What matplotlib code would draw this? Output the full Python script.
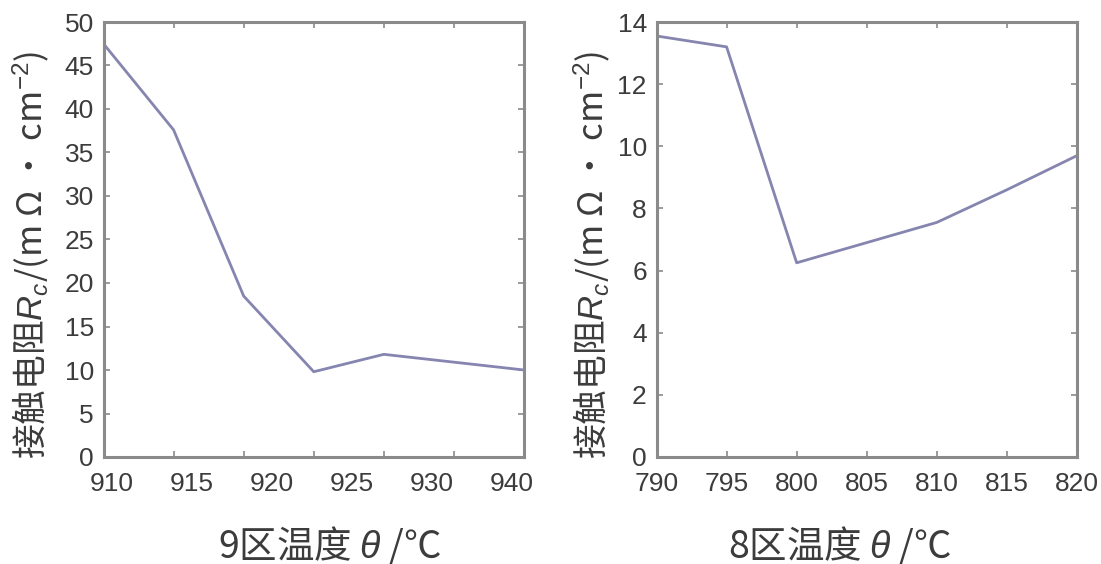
import matplotlib
matplotlib.use("Agg")
import matplotlib.pyplot as plt
import numpy as np

plt.rcParams['font.family'] = ['Liberation Sans', 'Noto Sans CJK SC', 'DejaVu Sans']
plt.rcParams['mathtext.fontset'] = 'custom'
plt.rcParams['mathtext.rm'] = 'Liberation Sans'
plt.rcParams['mathtext.it'] = 'Liberation Sans:italic'

# ---- data ----
x9 = [910, 915, 920, 925, 930, 935, 940]
r9 = [47.5, 37.6, 18.5, 9.8, 11.8, 10.9, 10.0]
x9_ticklabels = ['910', '915', '920', '925', '930', '940']
y9_ticks = [0, 5, 10, 15, 20, 25, 30, 35, 40, 45, 50]

x8 = [790, 795, 800, 805, 810, 815, 820]
r8 = [13.55, 13.2, 6.25, 6.9, 7.55, 8.6, 9.7]
x8_ticks = [790, 795, 800, 805, 810, 815, 820]
y8_ticks = [0, 2, 4, 6, 8, 10, 12, 14]

xlabel9 = '9区温度 $\\theta$ /℃'
xlabel8 = '8区温度 $\\theta$ /℃'
ylabel = '接触电阻$\\mathit{R}_{\\mathit{c}}$/(m Ω • cm$^{-2}$)'

W, H = 1101, 564
fig = plt.figure(figsize=(W / 100, H / 100), dpi=100)

line_color = '#8585b0'
frame_color = '#8a8a8a'
text_color = '#3c3c3c'
tick_fs = 19
xlabel_fs = 27
ylabel_fs = 25


def style(ax):
    for s in ax.spines.values():
        s.set_color(frame_color)
        s.set_linewidth(2.2)
    ax.tick_params(which='major', direction='in', top=True, right=True,
                   length=4, width=1.2, color=frame_color,
                   labelsize=tick_fs, labelcolor=text_color, pad=7)


def px_axes(l, t, r, b):
    return fig.add_axes([l / W, 1 - b / H, (r - l) / W, (b - t) / H])


# ---- left panel ----
ax1 = px_axes(103.5, 22, 524, 457)
ax1.plot(x9, r9, color=line_color, lw=2.0)
ax1.set_xlim(910, 940)
ax1.set_ylim(0, 50)
ax1.set_yticks(y9_ticks)
ax1.set_xticks(x9)
ax1.set_xticklabels([''] * len(x9))
lab_pos = np.linspace(910.6, 939.1, len(x9_ticklabels))
ax1.set_xticks(lab_pos, minor=True)
ax1.set_xticklabels(x9_ticklabels, minor=True)
style(ax1)
ax1.tick_params(which='minor', length=0, labelsize=tick_fs,
                labelcolor=text_color, pad=11, top=False)
ax1.set_xlabel(xlabel9, fontsize=xlabel_fs, color=text_color,
               family=['Noto Sans CJK SC', 'DejaVu Sans'])
ax1.xaxis.set_label_coords((330 - 103.5) / 420.5, -(545 - 457) / 435)
ax1.xaxis.label.set_va('center')
ax1.set_ylabel(ylabel, fontsize=ylabel_fs, color=text_color,
               family=['Noto Sans CJK SC', 'DejaVu Sans'])
ax1.yaxis.set_label_coords(-(103.5 - 31) / 420.5, (457 - 255) / 435)
ax1.yaxis.label.set_va('center')

# ---- right panel ----
ax2 = px_axes(656.5, 22, 1077, 457)
ax2.plot(x8, r8, color=line_color, lw=2.0)
ax2.set_xlim(790, 820)
ax2.set_ylim(0, 14)
ax2.set_xticks(x8_ticks)
ax2.set_yticks(y8_ticks)
style(ax2)
ax2.tick_params(axis='x', pad=11)
ax2.set_xlabel(xlabel8, fontsize=xlabel_fs, color=text_color,
               family=['Noto Sans CJK SC', 'DejaVu Sans'])
ax2.xaxis.set_label_coords((840 - 656.5) / 420.5, -(545 - 457) / 435)
ax2.xaxis.label.set_va('center')
ax2.set_ylabel(ylabel, fontsize=ylabel_fs, color=text_color,
               family=['Noto Sans CJK SC', 'DejaVu Sans'])
ax2.yaxis.set_label_coords(-(656.5 - 592) / 420.5, (457 - 255) / 435)
ax2.yaxis.label.set_va('center')

fig.savefig('out.png', dpi=100, facecolor='white')
